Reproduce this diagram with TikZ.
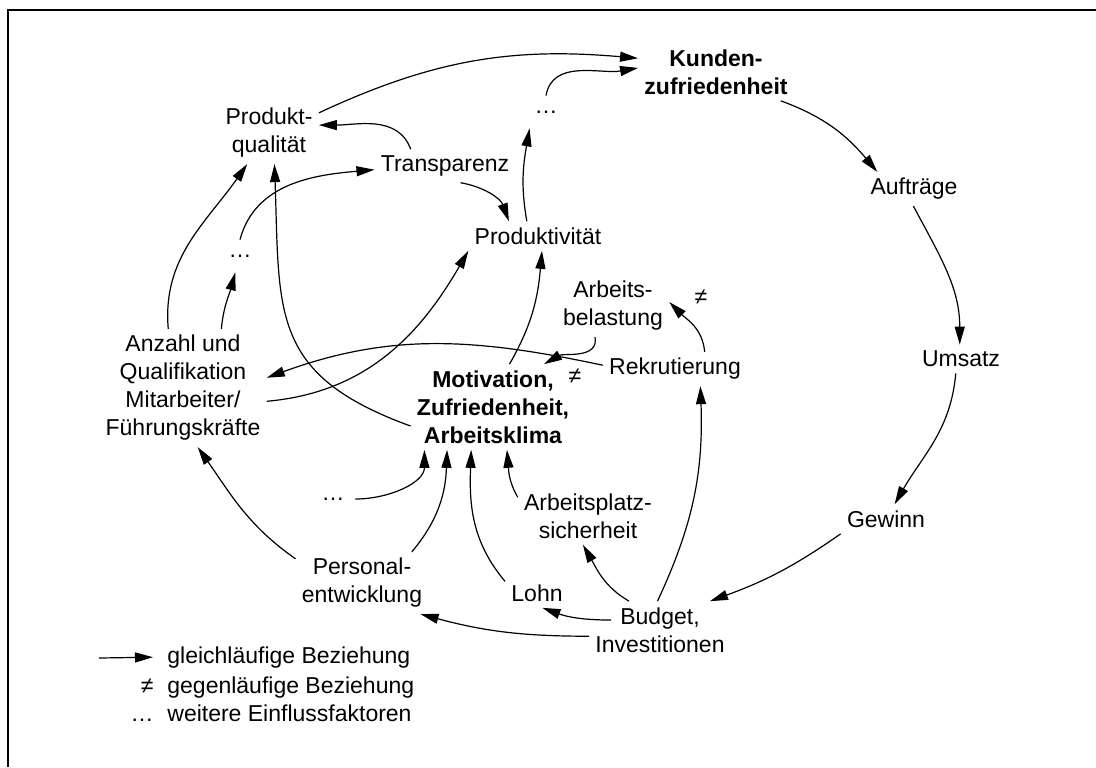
\documentclass[tikz,border=0pt]{standalone}
\usepackage{fontspec}
\setmainfont{Liberation Sans}
\usepackage{tikz}
\usetikzlibrary{arrows.meta}

\begin{document}
\begin{tikzpicture}[x=0.5pt,y=0.5pt]
\tikzstyle{every node}+=[inner sep=3pt,align=center,font=\fontsize{11.5}{14}\selectfont]
\tikzstyle{hl}=[font=\fontsize{11.5}{14}\selectfont\bfseries]
\tikzstyle{arr}=[line width=0.6pt,-{Triangle[length=9pt,width=5pt]}]
\tikzstyle{dots}=[minimum width=22pt,minimum height=16pt,inner sep=0pt]
\useasboundingbox (0,0) rectangle (1096,-767);
\draw [line width=1pt] (8,-767) -- (8,-10) -- (1096,-10);
% nodes
\draw (716,-72) node [hl] (kunden) {Kunden-\\zufriedenheit};
\draw (269,-133) node (pq) {Produkt-\\qualität};
\draw (445,-166) node (transp) {Transparenz};
\draw (538,-236) node (prod) {Produktivität};
\draw (546,-112) node [dots] (dA) {…};
\draw (240,-256) node [dots] (dB) {…};
\draw (333,-499) node [dots] (dC) {…};
\draw (914,-189) node (auftr) {Aufträge};
\draw (961,-359) node (umsatz) {Umsatz};
\draw (886,-519) node (gewinn) {Gewinn};
\draw (660,-630) node (budget) {Budget,\\Investitionen};
\draw (675,-369) node (rekr) {Rekrutierung};
\draw (613,-306) node (belast) {Arbeits-\\belastung};
\draw (493,-407) node [hl] (motiv) {Motivation,\\Zufriedenheit,\\Arbeitsklima};
\draw (183,-388) node (anzahl) {Anzahl und\\Qualifikation\\Mitarbeiter/\\Führungskräfte};
\draw (362,-583) node (personal) {Personal-\\entwicklung};
\draw (537,-593) node (lohn) {Lohn};
\draw (588,-516) node (sicher) {Arbeitsplatz-\\sicherheit};
% upper part
\draw [arr] (pq.22) to [out=25,in=175] (kunden.170);
\draw [arr] (dA.north) to [out=80,in=190] (kunden.177);
\draw [arr] (prod.127) to [out=100,in=260] (dA.225);
\draw [arr] (transp.154) to [out=110,in=0] (pq.9);
\draw [arr] (transp.-47) to [out=-10,in=110] (prod.153);
\draw [arr] (dB.north) to [out=75,in=185] (transp.183);
\draw [arr] (anzahl.104) to [out=95,in=235] (pq.235);
\draw [arr] (anzahl.57) to [out=85,in=255] (dB.254);
\draw [arr] (motiv.193) to [out=160,in=-88,looseness=1.3] (pq.-80);
\draw [arr] (motiv.69) to [out=60,in=265] (prod.-75);
\draw [arr] (anzahl.-9) to [out=5,in=240] (prod.south west);
\draw [arr] (rekr.177) to [out=168,in=20] (anzahl.7);
\draw [arr] (belast.240) to [out=-80,in=30] (motiv.40);
\draw (575,-376) node (ne1) {≠};
\draw [arr] (rekr.30) to [out=95,in=-45] (belast.4);
\draw (701,-297) node (ne2) {≠};
% right loop
\draw [arr] (kunden.-24) to [out=-20,in=130] (auftr.155);
\draw [arr] (auftr.-92) to [out=-62,in=90] (umsatz.95);
\draw [arr] (umsatz.-110) to [out=-95,in=60] (gewinn.60);
\draw [arr] (gewinn.south west) to [out=215,in=20] (budget.30);
% lower part
\draw [arr] (budget.95) to [out=65,in=-88] (rekr.-34);
\draw [arr] (budget.137) to [out=150,in=-60] (sicher.-100);
\draw [arr] ([xshift=11pt]budget.172) to [out=180,in=-20] (lohn.-70);
\draw [arr] (budget.185) to [out=180,in=-15] (personal.-28);
\draw [arr] (lohn.160) to [out=130,in=268] (motiv.243);
\draw [arr] (sicher.165) to [out=120,in=-85] (motiv.-72);
\draw [arr] (personal.32) to [out=50,in=-92] (motiv.223);
\draw [arr] (dC.east) to [out=0,in=-90] (motiv.212);
\draw [arr] (personal.160) to [out=145,in=-55] (anzahl.-76);
% legend
\coordinate (legA) at (99,-658);
\draw (161,-663) node [anchor=base west] (leg1) {gleichläufige Beziehung};
\draw [arr,shorten >=4pt] (legA) -- (leg1.west);
\draw (160,-693) node [anchor=base east] (leg2s) {≠};
\draw (161,-693) node [anchor=base west] (leg2) {gegenläufige Beziehung};
\draw (160,-721) node [anchor=base east] (leg3s) {…};
\draw (161,-721) node [anchor=base west] (leg3) {weitere Einflussfaktoren};
\end{tikzpicture}
\end{document}
